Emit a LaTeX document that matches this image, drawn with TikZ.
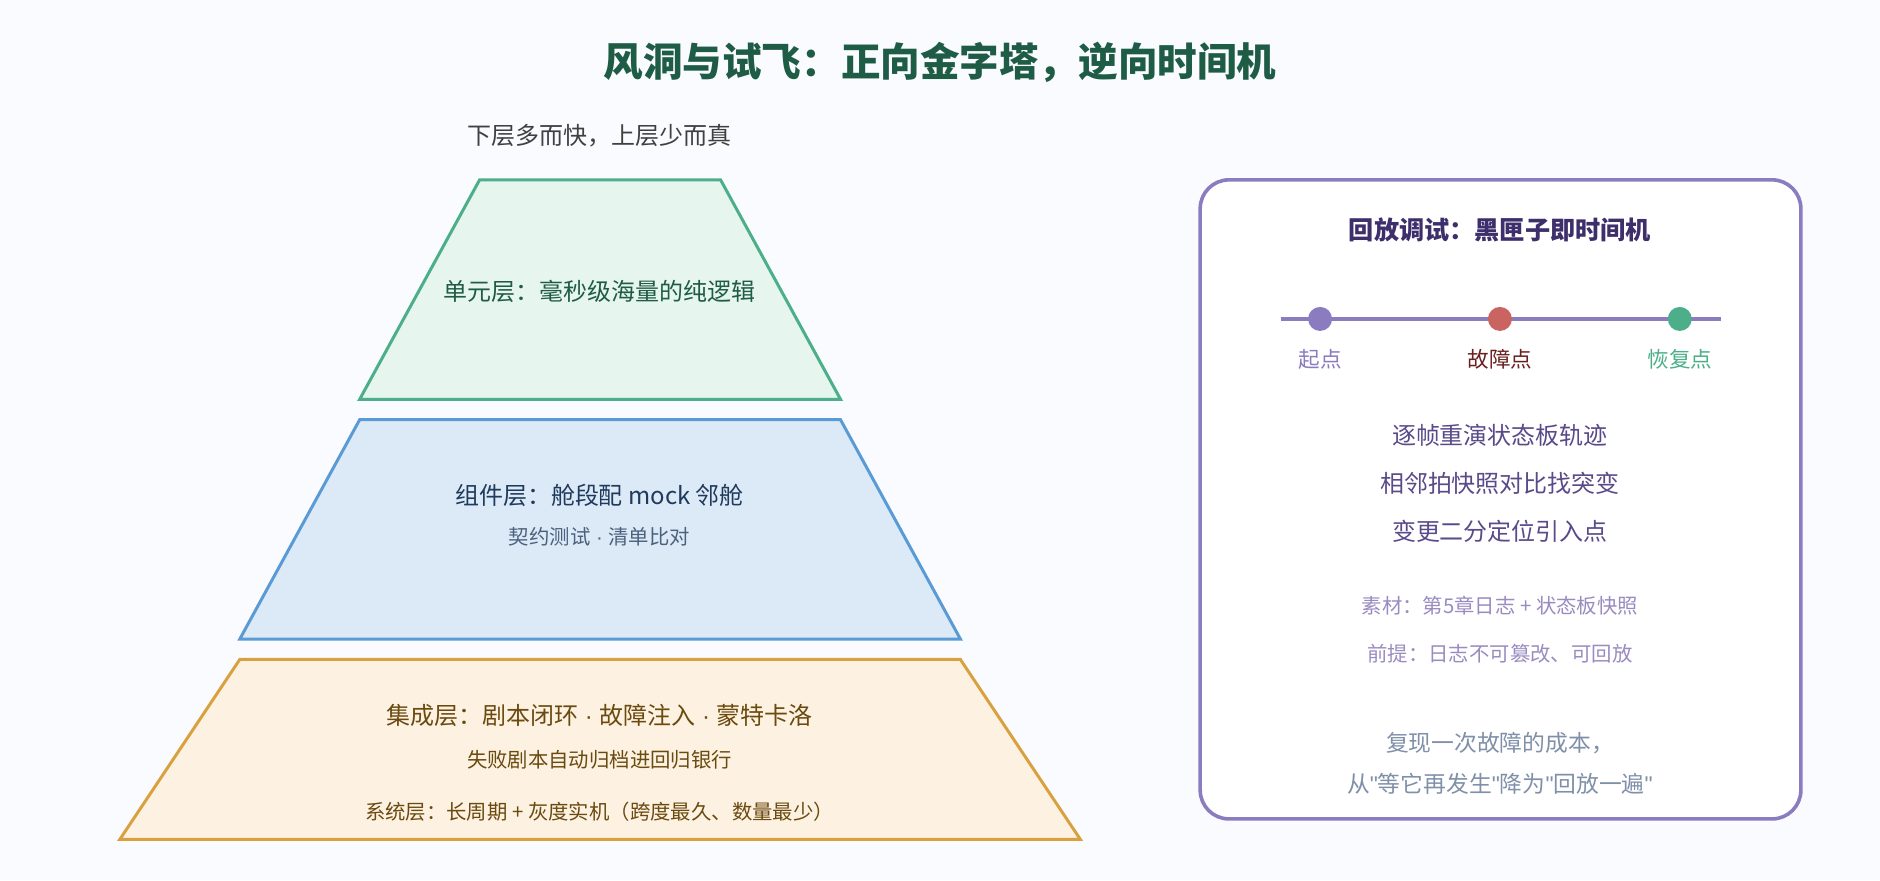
\documentclass[tikz,border=0pt]{standalone}
\usepackage{fontspec}
\setmainfont{Noto Sans CJK SC}
\newfontfamily\lat{Liberation Sans}
\definecolor{bg}{HTML}{F9FBFE}
\definecolor{tgreen}{HTML}{1F5C45}
\definecolor{sgreen}{HTML}{4CAF8A}
\definecolor{fgreen}{HTML}{E6F5EE}
\definecolor{sblue}{HTML}{5B9BD5}
\definecolor{fblue}{HTML}{DCEAF7}
\definecolor{tblue}{HTML}{1F3A5C}
\definecolor{sorange}{HTML}{D9A040}
\definecolor{forange}{HTML}{FDF2E1}
\definecolor{tbrown}{HTML}{6B4A10}
\definecolor{spurple}{HTML}{8B7CC0}
\definecolor{tpurple}{HTML}{3D2F6B}
\definecolor{mpurple}{HTML}{5A4A8A}
\definecolor{lpurple}{HTML}{9A8CC0}
\definecolor{sred}{HTML}{C96461}
\definecolor{tred}{HTML}{6B2020}
\definecolor{tgray}{HTML}{8090A8}
\newcommand{\fs}[1]{\fontsize{#1}{#1}\selectfont}
\newcommand{\md}{{\lat\ ·\ }}
\newcommand{\qq}{{\lat"}}
\begin{document}
\begin{tikzpicture}[x=1pt,y=-1pt,
  lay/.style={line width=2.5pt,line join=miter},
  t/.style={anchor=center,inner sep=0pt}]
\fill[bg] (0,0) rectangle (1568,734);
\useasboundingbox (0,0) rectangle (1568,734);
\node[t,text=tgreen,font=\fs{33}\bfseries] (title) at (784,52) {风洞与试飞：正向金字塔，逆向时间机};
\node[t,text=black!75,font=\fs{20}] (sub) at (500,113) {下层多而快，上层少而真};
\draw[lay,draw=sgreen,fill=fgreen] (400,150)--(601,150)--(701,333)--(300,333)--cycle;
\draw[lay,draw=sblue,fill=fblue] (300,350)--(701,350)--(801,533)--(200,533)--cycle;
\draw[lay,draw=sorange,fill=forange] (200,550)--(801,550)--(901,700)--(100,700)--cycle;
\node[t,text=tgreen,font=\fs{20}] (u) at (500,243) {单元层：毫秒级海量的纯逻辑};
\node[t,text=tblue,font=\fs{20}] (c1) at (500,413) {组件层：舱段配 mock 邻舱};
\node[t,text=tblue!80,font=\fs{17}] (c2) at (500,448) {契约测试\md 清单比对};
\node[t,text=tbrown,font=\fs{20}] (i1) at (500,597) {集成层：剧本闭环\md 故障注入\md 蒙特卡洛};
\node[t,text=tbrown,font=\fs{17}] (i2) at (500,634) {失败剧本自动归档进回归银行};
\node[t,text=tbrown,font=\fs{17}] (i3) at (500,677) {系统层：长周期 + 灰度实机（跨度最久、数量最少）};
\draw[line width=3pt,draw=spurple,fill=white,rounded corners=24pt] (1001,150) rectangle (1502,683);
\node[t,text=tpurple,font=\fs{21}\bfseries] (rt) at (1251,192) {回放调试：黑匣子即时间机};
\coordinate (l0) at (1068,266); \coordinate (l1) at (1435,266);
\draw[line width=4pt,spurple] (l0)--(l1);
\fill[spurple] (1101,266) circle (10);
\fill[sred] (1251,266) circle (10);
\fill[sgreen] (1401,266) circle (10);
\node[t,text=spurple,font=\fs{18}] (a) at (1101,300) {起点};
\node[t,text=tred,font=\fs{18}] (b) at (1251,300) {故障点};
\node[t,text=sgreen,font=\fs{18}] (c) at (1401,300) {恢复点};
\node[t,text=mpurple,font=\fs{20}] (m1) at (1251,363) {逐帧重演状态板轨迹};
\node[t,text=mpurple,font=\fs{20}] (m2) at (1251,403) {相邻拍快照对比找突变};
\node[t,text=mpurple,font=\fs{20}] (m3) at (1251,443) {变更二分定位引入点};
\node[t,text=lpurple,font=\fs{17}] (n1) at (1251,505) {素材：第5章日志 + 状态板快照};
\node[t,text=lpurple,font=\fs{17}] (n2) at (1251,545) {前提：日志不可篡改、可回放};
\node[t,text=tgray,font=\fs{19}] (g1) at (1251,620) {复现一次故障的成本，};
\node[t,text=tgray,font=\fs{19}] (g2) at (1251,654) {从\qq 等它再发生\qq 降为\qq 回放一遍\qq};
\end{tikzpicture}
\end{document}
